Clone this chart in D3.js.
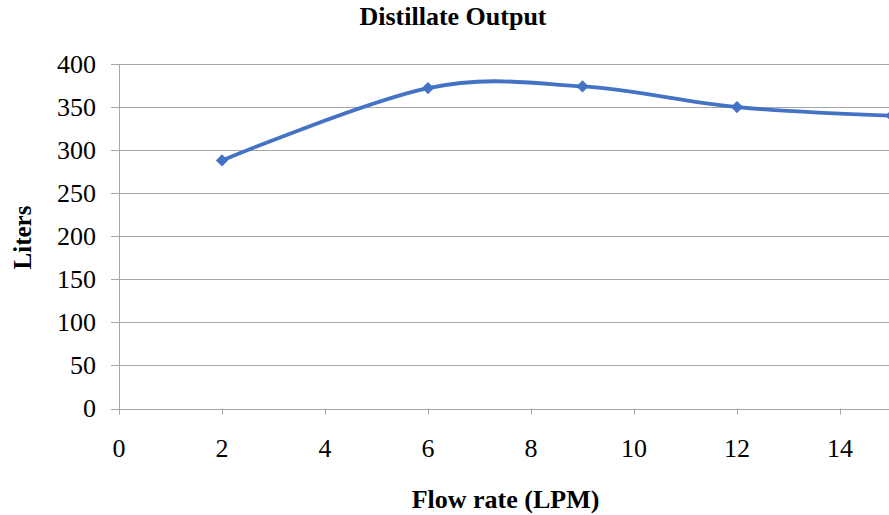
<!DOCTYPE html>
<html>
<head>
<meta charset="utf-8">
<script src="https://cdn.jsdelivr.net/npm/d3@7"></script>
<style>
  html, body { margin: 0; padding: 0; background: #fff; }
  svg { display: block; }
</style>
</head>
<body>
<svg id="chart" width="889" height="515"></svg>
<script>
// Distillate output versus flow rate
const flowRates = [2, 6, 9, 12, 15];
const liters = [288, 372, 374, 350, 340];
const xTicks = [0, 2, 4, 6, 8, 10, 12, 14];
const yTicks = [0, 50, 100, 150, 200, 250, 300, 350, 400];

const FONT = "'Liberation Serif', 'Times New Roman', serif";

const svg = d3.select("#chart");
const plot = { left: 119, right: 891.5, top: 64, bottom: 408.5 };

const x = d3.scaleLinear().domain([0, 15]).range([plot.left, plot.right]);
const y = d3.scaleLinear().domain([0, 400]).range([plot.bottom, plot.top]);

const gridColor = "#a6a6a6";

// horizontal gridlines
svg.append("g")
  .selectAll("line")
  .data(yTicks)
  .join("line")
  .attr("x1", plot.left - 8).attr("x2", 889)
  .attr("y1", d => Math.round(y(d)) + 0.5).attr("y2", d => Math.round(y(d)) + 0.5)
  .attr("stroke", gridColor).attr("stroke-width", 1);

// y axis line
svg.append("line")
  .attr("x1", plot.left + 0.5).attr("x2", plot.left + 0.5)
  .attr("y1", plot.top).attr("y2", plot.bottom + 6)
  .attr("stroke", gridColor).attr("stroke-width", 1);

// x tick marks
svg.append("g")
  .selectAll("line")
  .data(xTicks)
  .join("line")
  .attr("x1", d => Math.round(x(d)) + 0.5).attr("x2", d => Math.round(x(d)) + 0.5)
  .attr("y1", plot.bottom).attr("y2", plot.bottom + 6)
  .attr("stroke", gridColor).attr("stroke-width", 1);

// y tick labels
svg.append("g")
  .selectAll("text")
  .data(yTicks)
  .join("text")
  .attr("x", 96)
  .attr("y", d => y(d))
  .attr("dy", "0.33em")
  .attr("text-anchor", "end")
  .style("font-family", FONT)
  .style("font-size", "26px")
  .text(d => d);

// x tick labels
svg.append("g")
  .selectAll("text")
  .data(xTicks)
  .join("text")
  .attr("x", d => x(d))
  .attr("y", 457)
  .attr("text-anchor", "middle")
  .style("font-family", FONT)
  .style("font-size", "26px")
  .text(d => d);

// series line (smoothed)
const pts = flowRates.map((f, i) => [f, liters[i]]);
const line = d3.line()
  .x(d => x(d[0]))
  .y(d => y(d[1]))
  .curve(d3.curveCardinal.tension(0));

svg.append("path")
  .datum(pts)
  .attr("d", line)
  .attr("fill", "none")
  .attr("stroke", "#4472c4")
  .attr("stroke-width", 3.8)
  .attr("stroke-linejoin", "round");

// diamond markers
const diamond = d3.symbol().type(d3.symbolDiamond2).size(95);
svg.append("g")
  .selectAll("path")
  .data(pts)
  .join("path")
  .attr("transform", d => `translate(${x(d[0])},${y(d[1])})`)
  .attr("d", diamond)
  .attr("fill", "#4472c4");

// titles
svg.append("text")
  .attr("x", 453).attr("y", 25)
  .attr("text-anchor", "middle")
  .style("font-family", FONT)
  .style("font-size", "26px").style("font-weight", "bold")
  .text("Distillate Output");

svg.append("text")
  .attr("x", 505.5).attr("y", 508)
  .attr("text-anchor", "middle")
  .style("font-family", FONT)
  .style("font-size", "26px").style("font-weight", "bold")
  .text("Flow rate (LPM)");

svg.append("text")
  .attr("transform", "translate(31,237.5) rotate(-90)")
  .attr("text-anchor", "middle")
  .style("font-family", FONT)
  .style("font-size", "25px").style("font-weight", "bold")
  .text("Liters");
</script>
</body>
</html>
